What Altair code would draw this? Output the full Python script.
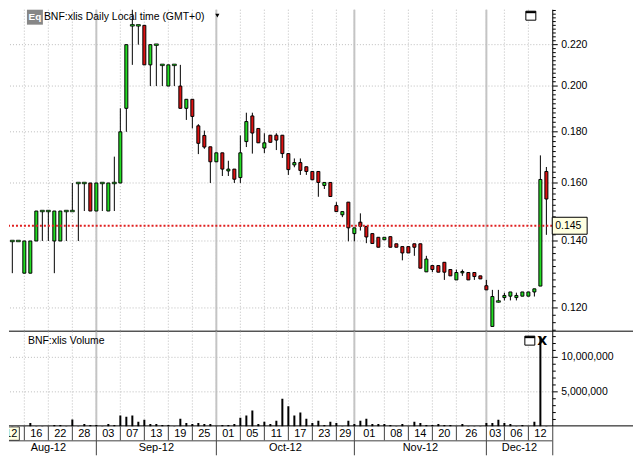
import altair as alt
import pandas as pd

# ---------------- data ----------------
OPEN = [0.130, 0.140, 0.140, 0.140, 0.130, 0.130, 0.140, 0.150, 0.150, 0.140,
        0.140, 0.150, 0.150, 0.160, 0.160, 0.160, 0.150, 0.160, 0.150, 0.160,
        0.160, 0.190, 0.230, 0.230, 0.230, 0.210, 0.220, 0.210, 0.200, 0.210,
        0.200, 0.190, 0.194, 0.1825, 0.1785, 0.1739, 0.1680, 0.1715, 0.1645, 0.1652,
        0.1620, 0.1760, 0.1867, 0.1814, 0.1734, 0.1786, 0.1786, 0.1786, 0.1712, 0.1668,
        0.1677, 0.1661, 0.1643, 0.1643, 0.1591, 0.1602, 0.1519, 0.1487, 0.1531, 0.1424,
        0.1462, 0.1448, 0.1424, 0.1412, 0.1404, 0.1414, 0.1391, 0.1382, 0.1382, 0.1391,
        0.1391, 0.1304, 0.1323, 0.1323, 0.1333, 0.1311, 0.1280, 0.1301, 0.1302, 0.1302,
        0.1292, 0.1263, 0.1150, 0.1218, 0.1229, 0.1233, 0.1229, 0.1233, 0.1233, 0.1245,
        0.1262, 0.1643]
HIGH = [0.140, 0.140, 0.140, 0.140, 0.140, 0.140, 0.150, 0.150, 0.150, 0.150,
        0.150, 0.150, 0.160, 0.160, 0.160, 0.160, 0.160, 0.160, 0.160, 0.170,
        0.190, 0.220, 0.241, 0.230, 0.230, 0.220, 0.220, 0.210, 0.210, 0.210,
        0.210, 0.194, 0.194, 0.1832, 0.1805, 0.1739, 0.1715, 0.1715, 0.1684, 0.1652,
        0.1785, 0.1881, 0.1881, 0.1814, 0.1794, 0.1786, 0.1794, 0.1786, 0.1712, 0.1693,
        0.1693, 0.1661, 0.1643, 0.1643, 0.1602, 0.1602, 0.1531, 0.1498, 0.1531, 0.1443,
        0.1492, 0.1448, 0.1424, 0.1412, 0.1412, 0.1414, 0.1391, 0.1382, 0.1382, 0.1391,
        0.1391, 0.1353, 0.1323, 0.1323, 0.1333, 0.1311, 0.1311, 0.1311, 0.1302, 0.1302,
        0.1292, 0.1280, 0.1251, 0.1251, 0.1243, 0.1245, 0.1243, 0.1245, 0.1245, 0.1254,
        0.1705, 0.1660]
LOW = [0.130, 0.130, 0.130, 0.140, 0.130, 0.130, 0.140, 0.140, 0.140, 0.130,
       0.140, 0.140, 0.150, 0.140, 0.150, 0.150, 0.150, 0.150, 0.150, 0.150,
       0.160, 0.180, 0.210, 0.220, 0.210, 0.200, 0.200, 0.200, 0.200, 0.200,
       0.190, 0.185, 0.1814, 0.1710, 0.1731, 0.1600, 0.1680, 0.1626, 0.1626, 0.1600,
       0.1600, 0.1738, 0.1712, 0.1755, 0.1714, 0.1757, 0.1726, 0.1695, 0.1630, 0.1659,
       0.1630, 0.1630, 0.1612, 0.1550, 0.1578, 0.1551, 0.1498, 0.1479, 0.1399, 0.1399,
       0.1434, 0.1393, 0.1392, 0.1380, 0.1404, 0.1380, 0.1380, 0.1339, 0.1362, 0.1353,
       0.1315, 0.1304, 0.1303, 0.1303, 0.1280, 0.1292, 0.1280, 0.1292, 0.1280, 0.1280,
       0.1283, 0.1251, 0.1150, 0.1215, 0.1221, 0.1221, 0.1221, 0.1233, 0.1233, 0.1232,
       0.1262, 0.1420]
CLOSE = [0.140, 0.140, 0.140, 0.140, 0.140, 0.140, 0.150, 0.150, 0.150, 0.150,
         0.150, 0.150, 0.150, 0.160, 0.160, 0.150, 0.160, 0.160, 0.160, 0.160,
         0.180, 0.220, 0.230, 0.230, 0.210, 0.220, 0.220, 0.210, 0.210, 0.210,
         0.190, 0.194, 0.1865, 0.1753, 0.1738, 0.1680, 0.1715, 0.1652, 0.1652, 0.1614,
         0.1715, 0.1843, 0.1795, 0.1755, 0.1755, 0.1757, 0.1766, 0.1712, 0.1650, 0.1677,
         0.1647, 0.1643, 0.1612, 0.1602, 0.1602, 0.1551, 0.1498, 0.1498, 0.1443, 0.1443,
         0.1448, 0.1413, 0.1392, 0.1380, 0.1412, 0.1380, 0.1380, 0.1362, 0.1362, 0.1380,
         0.1315, 0.1343, 0.1311, 0.1303, 0.1303, 0.1292, 0.1302, 0.1305, 0.1280, 0.1290,
         0.1283, 0.1251, 0.1232, 0.1218, 0.1235, 0.1245, 0.1235, 0.1245, 0.1245, 0.1254,
         0.1613, 0.1542]
VOLUME_M = [0.05, 0.2, 0.05, 0.05, 0.05, 0.5, 0.05, 0.05, 0.05, 0.2,
            0.2, 0.05, 1.0, 0.05, 0.35, 0.2, 0.2, 0.05, 0.35, 0.2,
            1.57, 1.4, 1.57, 0.66, 0.96, 0.35, 0.35, 0.2, 0.2, 0.05,
            1.1, 0.5, 0.35, 0.5, 0.35, 0.35, 0.05, 0.2, 0.2, 0.35,
            1.26, 1.57, 2.3, 0.35, 0.66, 0.35, 0.8, 4.0, 2.9, 1.57,
            2.0, 1.1, 0.5, 0.8, 0.2, 0.66, 0.5, 0.05, 0.8, 0.35,
            0.8, 1.1, 0.35, 0.35, 0.35, 0.2, 0.05, 0.35, 0.05, 0.66,
            0.5, 0.2, 0.2, 0.35, 0.2, 0.2, 0.05, 0.35, 0.05, 0.05,
            0.05, 0.5, 0.5, 0.96, 0.5, 0.35, 0.05, 0.2, 0.05, 0.66,
            13.0, 0.05]

TICK_IDX = [4, 8, 12, 16, 20, 24, 28, 32, 36, 40, 44, 48, 52, 56, 59, 64, 68, 72, 76, 81, 84, 88]
TICK_LABELS = ["16", "22", "28", "03", "07", "13", "19", "25", "01", "05", "11",
               "17", "23", "29", "01", "08", "14", "20", "26", "03", "06", "12"]
MONTH_START = [16, 36, 59, 81]
MONTH_LABELS = ["Aug-12", "Sep-12", "Oct-12", "Nov-12", "Dec-12"]
CURSOR_LABEL = "012"
CURSOR_END = 3.17
PRICE_TICKS = [0.12, 0.14, 0.16, 0.18, 0.20, 0.22]
VOLUME_TICKS = [5000000, 10000000]
LAST_PRICE = 0.145
TITLE = "BNF:xlis Daily Local time (GMT+0)"
VOL_TITLE = "BNF:xlis Volume"

# ---------------- styling ----------------
FONT = "Liberation Sans"
GREEN = "#22dd22"
RED = "#dd1111"
GRID = "#bdbdbd"
MONTH_GRID = "#c4c4c4"
W, HP, HV, HD = 545, 323, 95, 29
FULLW = 626
AX = W + 0.5  # right axis line

X_DOMAIN = [1.445, 91.98]
P_DOMAIN = [0.11362, 0.23843]
V_DOMAIN = [0, 13714000]

n = len(OPEN)
candles = pd.DataFrame({
    "k": list(range(n)), "open": OPEN, "high": HIGH, "low": LOW, "close": CLOSE,
    "volume": [v * 1e6 for v in VOLUME_M],
})
months_df = pd.DataFrame({"k": MONTH_START})
ticks_df = pd.DataFrame({"k": TICK_IDX})
db = TICK_IDX + [n]
day_df = pd.DataFrame({"x": [(a + b) / 2 for a, b in zip(db[:-1], db[1:])], "t": TICK_LABELS})
mb = [0] + MONTH_START + [n]
mon_df = pd.DataFrame({"x": [(a + b) / 2 for a, b in zip(mb[:-1], mb[1:])], "t": MONTH_LABELS})
cursor_df = pd.DataFrame({"a": [0.0], "b": [CURSOR_END], "t": [CURSOR_LABEL]})
last_df = pd.DataFrame({"v": [LAST_PRICE], "label": [f"{LAST_PRICE:.3f}"]})
pt_df = pd.DataFrame({"v": PRICE_TICKS, "label": [f"{v:.3f}" for v in PRICE_TICKS]})
vt_df = pd.DataFrame({"v": VOLUME_TICKS, "label": [f"{v:,d}" for v in VOLUME_TICKS]})
p_minor = pd.DataFrame({"v": [round(0.114 + 0.002 * i, 3) for i in range(63)
                              if round(0.114 + 0.002 * i, 3) not in PRICE_TICKS]})
v_minor = pd.DataFrame({"v": [i * 1e6 for i in range(1, 14) if i * 1e6 not in VOLUME_TICKS]})
one = pd.DataFrame({"a": [0]})

xs = alt.Scale(domain=X_DOMAIN, nice=False, zero=False, padding=0)
ps = alt.Scale(type="log", domain=P_DOMAIN, nice=False, zero=False, padding=0)
vs = alt.Scale(domain=V_DOMAIN, nice=False, zero=True, padding=0)

X = alt.X("k:Q", scale=xs, axis=None)
YP = lambda f: alt.Y(f, scale=ps, axis=None)
YV = lambda f: alt.Y(f, scale=vs, axis=None)


def vgrid():
    return [
        alt.Chart(ticks_df).mark_rule(color=GRID, strokeDash=[1, 2], strokeWidth=1).encode(x=X),
        alt.Chart(months_df).mark_rule(color=MONTH_GRID, strokeWidth=2).encode(x=X),
    ]


def right_axis(tdf, minor_df, Yf, h, fs):
    return [
        alt.Chart(tdf).mark_rule(color=GRID, strokeDash=[1, 2], strokeWidth=1).encode(y=Yf("v:Q")),
        alt.Chart(one).mark_rule(color="black", strokeWidth=1).encode(
            x=alt.value(AX), y=alt.value(0), y2=alt.value(h)),
        alt.Chart(tdf).mark_rule(color="black", strokeWidth=1).encode(
            y=Yf("v:Q"), x=alt.value(AX), x2=alt.value(AX + 5)),
        alt.Chart(minor_df).mark_rule(color="black", strokeWidth=1).encode(
            y=Yf("v:Q"), x=alt.value(AX), x2=alt.value(AX + 3)),
        alt.Chart(tdf).mark_text(align="left", baseline="middle", font=FONT, fontSize=fs,
                                 color="black").encode(
            y=Yf("v:Q"), x=alt.value(AX + 8.5), text="label:N"),
    ]


# ---------------- price panel ----------------
wicks = alt.Chart(candles).mark_rule(color="black", strokeWidth=1, clip=True).encode(
    x=X, y=YP("low:Q"), y2="high:Q")
bodies = alt.Chart(candles).transform_filter("datum.open != datum.close").mark_bar(
    size=3, stroke="black", strokeWidth=1, clip=True).encode(
    x=X, y=YP("open:Q"), y2="close:Q",
    color=alt.condition("datum.close > datum.open", alt.value(GREEN), alt.value(RED)))
doji = alt.Chart(candles).transform_filter("datum.open == datum.close").mark_tick(
    orient="horizontal", size=4, thickness=1.5, color=GREEN, stroke="black",
    strokeWidth=0.8, opacity=1, clip=True).encode(x=X, y=YP("close:Q"))
last_line = alt.Chart(last_df).mark_rule(color="#e02020", strokeDash=[2, 2], strokeWidth=2).encode(
    y=YP("v:Q"))
BOX = "M-1,-0.486L1,-0.486L1,0.486L-1,0.486Z"
last_box = alt.Chart(last_df).mark_point(shape=BOX, size=1225, filled=True, fill="#ffffe1",
                                         stroke="black", strokeWidth=1, opacity=1).encode(
    x=alt.value(562.5), y=YP("v:Q"))
last_text = alt.Chart(last_df).mark_text(align="left", baseline="middle", font=FONT,
                                         fontSize=10.5, color="black").encode(
    x=alt.value(548), y=YP("v:Q"), text="label:N")
eq_rect = alt.Chart(one).mark_rect(color="#878787").encode(
    x=alt.value(18), x2=alt.value(34), y=alt.value(0), y2=alt.value(15))
eq_text = alt.Chart(one).mark_text(font=FONT, fontSize=10, color="white", fontWeight="bold",
                                   baseline="middle").encode(
    x=alt.value(26), y=alt.value(7.5), text=alt.value("Eq"))
title = alt.Chart(one).mark_text(align="left", baseline="middle", font=FONT, fontSize=10.5,
                                 color="black").encode(
    x=alt.value(35), y=alt.value(7), text=alt.value(TITLE))
tri = alt.Chart(one).mark_point(shape="triangle-down", filled=True, color="black", size=18,
                                opacity=1).encode(x=alt.value(209), y=alt.value(6))
sq1 = alt.Chart(one).mark_rect(fill="white", stroke="black", strokeWidth=1).encode(
    x=alt.value(518.5), x2=alt.value(528.5), y=alt.value(1.5), y2=alt.value(10.5))
sq1t = alt.Chart(one).mark_rule(color="black", strokeWidth=2).encode(
    x=alt.value(518.5), x2=alt.value(528.5), y=alt.value(2.5))
p_bottom = alt.Chart(one).mark_rule(color="black", strokeWidth=1).encode(
    x=alt.value(0), x2=alt.value(FULLW), y=alt.value(HP - 0.5))

price = alt.layer(*vgrid(), *right_axis(pt_df, p_minor, YP, HP, 10.5),
                  wicks, bodies, doji, last_line, last_box, last_text,
                  eq_rect, eq_text, title, tri, sq1, sq1t, p_bottom).properties(width=W, height=HP)

# ---------------- volume panel ----------------
vbars = alt.Chart(candles).mark_bar(size=2, color="black", clip=True).encode(
    x=X, y=YV("volume:Q"))
vtitle = alt.Chart(one).mark_text(align="left", baseline="middle", font=FONT, fontSize=10.5,
                                  color="black").encode(
    x=alt.value(19), y=alt.value(9), text=alt.value(VOL_TITLE))
sq2 = alt.Chart(one).mark_rect(fill="white", stroke="black", strokeWidth=1).encode(
    x=alt.value(517.5), x2=alt.value(527.5), y=alt.value(4.5), y2=alt.value(13.5))
sq2t = alt.Chart(one).mark_rule(color="black", strokeWidth=2).encode(
    x=alt.value(517.5), x2=alt.value(527.5), y=alt.value(5.5))
xmark = alt.Chart(one).mark_text(font="DejaVu Sans", fontSize=13, fontWeight="bold",
                                 color="black", baseline="middle").encode(
    x=alt.value(535), y=alt.value(9), text=alt.value("X"))
v_bottom = alt.Chart(one).mark_rule(color="black", strokeWidth=1).encode(
    x=alt.value(0), x2=alt.value(FULLW), y=alt.value(HV - 0.5))

volume = alt.layer(*vgrid(), *right_axis(vt_df, v_minor, YV, HV, 10.5),
                   vbars, vtitle, sq2, sq2t, xmark, v_bottom).properties(width=W, height=HV)

# ---------------- date panel ----------------
ROW = 14
cur_rect = alt.Chart(cursor_df).mark_rect(fill="#ffffe1", stroke="#404040", strokeWidth=1,
                                          clip=True).encode(
    x=alt.X("a:Q", scale=xs, axis=None), x2="b:Q", y=alt.value(0.5), y2=alt.value(ROW))
cur_text = alt.Chart(cursor_df).mark_text(align="right", baseline="middle", font=FONT,
                                          fontSize=11, color="black", dx=-2, clip=True).encode(
    x=alt.X("b:Q", scale=xs, axis=None), y=alt.value(7.5), text="t:N")
day_sep = alt.Chart(ticks_df).mark_rule(color="#404040", strokeWidth=1).encode(
    x=X, y=alt.value(0), y2=alt.value(ROW))
mon_sep = alt.Chart(months_df).mark_rule(color="#404040", strokeWidth=1).encode(
    x=X, y=alt.value(ROW), y2=alt.value(HD))
mid_line = alt.Chart(one).mark_rule(color="#404040", strokeWidth=1).encode(
    x=alt.value(0), x2=alt.value(W), y=alt.value(ROW + 0.5))
right_border = alt.Chart(one).mark_rule(color="#404040", strokeWidth=1).encode(
    x=alt.value(AX), y=alt.value(0), y2=alt.value(HD))
day_text = alt.Chart(day_df).mark_text(baseline="middle", font=FONT, fontSize=11,
                                       color="black").encode(
    x=alt.X("x:Q", scale=xs, axis=None), y=alt.value(7.5), text="t:N")
mon_text = alt.Chart(mon_df).mark_text(baseline="middle", font=FONT, fontSize=11,
                                       color="black").encode(
    x=alt.X("x:Q", scale=xs, axis=None), y=alt.value(22), text="t:N")

dates = alt.layer(cur_rect, cur_text, day_sep, mon_sep, mid_line, right_border,
                  day_text, mon_text).properties(width=W, height=HD)

chart = alt.vconcat(price, volume, dates, spacing=0, bounds="flush").properties(
    padding=0).configure_view(stroke=None)

chart.save("out.html", embed_options={"renderer": "svg", "actions": False})
